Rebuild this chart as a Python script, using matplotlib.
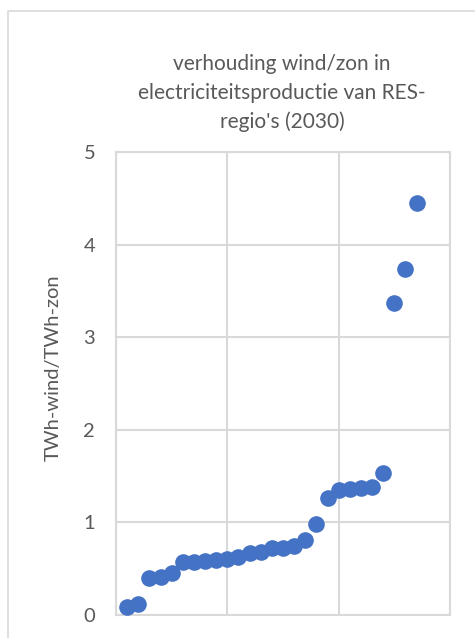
import matplotlib.pyplot as plt
from matplotlib.patches import Rectangle

# ratio wind/zon per RES-regio, sorted ascending
regio_nr = list(range(1, 28))
ratio = [0.09, 0.12, 0.40, 0.41, 0.45, 0.57, 0.57, 0.58, 0.59, 0.60,
         0.63, 0.67, 0.68, 0.72, 0.72, 0.74, 0.81, 0.98, 1.26, 1.35,
         1.36, 1.37, 1.38, 1.53, 3.37, 3.74, 4.45]
y_ticks = [0, 1, 2, 3, 4, 5]

plt.rcParams['font.family'] = ['Lato', 'DejaVu Sans']
grey = "#595959"

fig = plt.figure(figsize=(4.75, 6.38), dpi=100)
ax = fig.add_axes([116 / 475, 1 - 615 / 638, (450 - 116) / 475, (615 - 152) / 638])

# outer chart border (only left/top visible in the reference)
fig.patches.append(Rectangle((8 / 475, -0.1), 1.2, 1 - 11 / 638 + 0.1,
                             transform=fig.transFigure, fill=False,
                             edgecolor="#D9D9D9", linewidth=1.2))

ax.scatter(regio_nr, ratio, s=120, color="#4472C4", zorder=3, clip_on=False)
ax.set_xlim(0, 30)
ax.set_ylim(0, 5)
ax.set_xticks([0, 10, 20, 30])
ax.set_xticklabels([])
ax.set_yticks(y_ticks)
ax.tick_params(axis="both", length=0, labelsize=14.5, colors=grey, pad=15)
ax.grid(True, color="#D9D9D9", linewidth=1.5)
for sp in ax.spines.values():
    sp.set_color("#D9D9D9")
    sp.set_linewidth(1.5)
ax.set_ylabel("TWh-wind/TWh-zon", fontsize=14.5, color=grey)
ax.yaxis.set_label_coords((62 - 116) / (450 - 116), (615 - 368) / (615 - 152))

fig.text(282 / 475, 1 - 93 / 638,
         "verhouding wind/zon in\nelectriciteitsproductie van RES-\nregio's (2030)",
         ha="center", va="center", fontsize=15, color=grey, linespacing=1.55)

fig.savefig("out.png", dpi=100)
